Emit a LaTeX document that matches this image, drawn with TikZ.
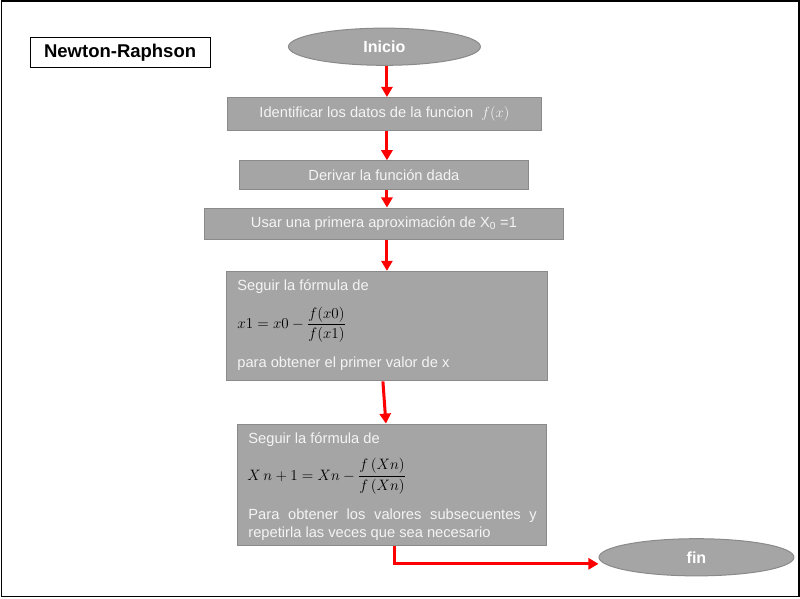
\RequirePackage{fix-cm}
\documentclass[tikz,border=0pt]{standalone}
\usepackage{amsmath}
\usepackage[no-math]{fontspec}
\setmainfont{Liberation Sans}
\usetikzlibrary{arrows.meta,shapes.geometric}
\definecolor{boxgray}{HTML}{A5A5A5}
\definecolor{boxedge}{HTML}{8A8A8A}
\definecolor{boxtextcol}{HTML}{F4F4F4}
\begin{document}
\begin{tikzpicture}[x=1pt,y=-1pt,
  procbox/.style={draw=boxedge,fill=boxgray,line width=1pt,inner sep=0pt,text=boxtextcol,
    font=\fontsize{14.6}{17}\selectfont},
  term/.style={ellipse,draw=boxedge,fill=boxgray,line width=1pt,inner sep=0pt,text=white,
    font=\bfseries\fontsize{16}{19}\selectfont},
  flow/.style={draw=red,line width=3pt,-{Triangle[length=10pt,width=11pt]}},
  boxtext/.style={anchor=base west,inner sep=0pt,text=boxtextcol,font=\fontsize{14.6}{18}\selectfont},
  formula/.style={anchor=west,inner sep=0pt,text=black,font=\fontsize{15}{18}\selectfont},
]
\useasboundingbox (0,0) rectangle (796,596);
\draw[line width=1pt,black] (1,1) rectangle (795,594);

% title
\node[draw=black,line width=1pt,fill=white,minimum width=179pt,minimum height=30pt,inner sep=0pt,
  font=\bfseries\fontsize{18.4}{21}\selectfont] (title) at (119.5,52) {Newton-Raphson};

% terminals
\node[term,minimum width=191pt,minimum height=37pt] (inicio) at (382.5,46.5) {Inicio};
\node[term,minimum width=194pt,minimum height=37pt] (fin) at (693,554.5) {fin};

% process boxes
\node[procbox,minimum width=313pt,minimum height=33pt] (b1) at (382.5,113.5)
  {Identificar los datos de la funcion\ \ $f(x)$};
\node[procbox,minimum width=288pt,minimum height=29pt] (b2) at (382,174.5)
  {Derivar la función dada};
\node[procbox,minimum width=358pt,minimum height=31pt] (b3) at (382,222.5)
  {Usar una primera aproximación de X\textsubscript{0} =1};
\node[procbox,minimum width=320pt,minimum height=109pt] (b4) at (385,324.5) {};
\node[procbox,minimum width=308pt,minimum height=121pt] (b5) at (390,482.5) {};

% texts of box 4
\node[boxtext] (t4a) at (236,289) {Seguir la fórmula de};
\node[formula] (t4b) at (236,323) {$x1 = x0 - \dfrac{f(x0)}{f(x1)}$};
\node[boxtext] (t4c) at (236,366) {para obtener el primer valor de x};

% texts of box 5
\node[boxtext] (t5a) at (247,441) {Seguir la fórmula de};
\node[formula] (t5b) at (246,474) {$X\,n+1 = Xn - \dfrac{f\,(Xn)}{f\,(Xn)}$};
\node[boxtext] (t5c) at (247,517) {\makebox[287pt][s]{Para obtener los valores subsecuentes y}};
\node[boxtext] (t5d) at (247,535) {repetirla las veces que sea necesario};

% connector x positions
\coordinate (ax) at (385,0);
\coordinate (a5s) at (381,0);
\coordinate (a5e) at (384,0);
\coordinate (bend) at (393,561);

\draw[flow] (inicio.south -| ax) -- (b1.north -| ax);
\draw[flow] (b1.south -| ax) -- (b2.north -| ax);
\draw[flow] (b2.south -| ax) -- (b3.north -| ax);
\draw[flow] (b3.south -| ax) -- (b4.north -| ax);
\draw[flow] (b4.south -| a5s) -- (b5.north -| a5e);
\draw[flow] (b5.south -| bend) -- (bend) -- (bend -| fin.west);
\end{tikzpicture}
\end{document}
